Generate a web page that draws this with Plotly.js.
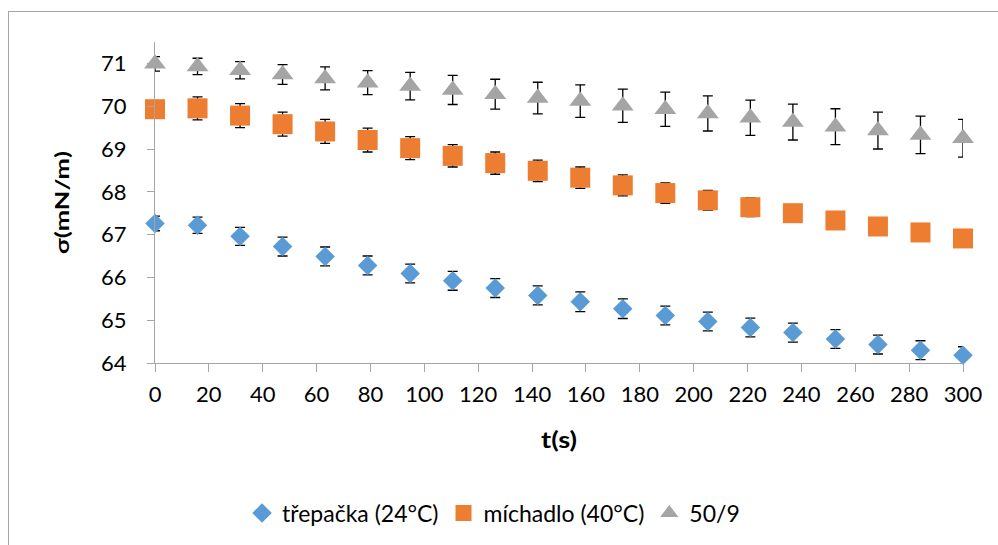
<!DOCTYPE html>
<html>
<head>
<meta charset="utf-8">
<script src="https://cdn.plot.ly/plotly-3.0.1.min.js"></script>
<style>
  html, body { margin: 0; padding: 0; background: #ffffff; overflow: hidden; }
  #wrap { position: relative; width: 998px; height: 545px; overflow: hidden; }
  #chart { position: absolute; left: 0; top: 0; width: 998px; height: 545px; }
  #frame { position: absolute; left: 8px; top: 11px; width: 1010px; height: 560px;
           border: 1px solid #a6a6a6; pointer-events: none; box-sizing: border-box; }
</style>
</head>
<body>
<div id="wrap">
  <div id="chart"></div>
  <div id="frame"></div>
</div>
<script>
// time points (s): 20 samples from 0 to 300
const timeS = [0, 15.79, 31.58, 47.37, 63.16, 78.95, 94.74, 110.53, 126.32, 142.11,
               157.89, 173.68, 189.47, 205.26, 221.05, 236.84, 252.63, 268.42, 284.21, 300];

const trepackaName = "třepačka (24°C)";
const trepacka = [67.26, 67.22, 66.96, 66.72, 66.49, 66.28, 66.09, 65.92, 65.75, 65.58,
                  65.43, 65.27, 65.11, 64.97, 64.83, 64.71, 64.56, 64.43, 64.30, 64.18];
const trepackaErr = [0.17, 0.19, 0.21, 0.22, 0.22, 0.22, 0.22, 0.22, 0.22, 0.22,
                     0.23, 0.23, 0.22, 0.22, 0.22, 0.22, 0.22, 0.22, 0.22, 0.20];

const michadloName = "míchadlo (40°C)";
const michadlo = [69.93, 69.95, 69.78, 69.58, 69.41, 69.21, 69.02, 68.84, 68.67, 68.49,
                  68.33, 68.15, 67.97, 67.80, 67.64, 67.50, 67.33, 67.19, 67.05, 66.91];
const michadloErr = [0.20, 0.27, 0.28, 0.28, 0.28, 0.28, 0.27, 0.26, 0.26, 0.25,
                     0.25, 0.245, 0.24, 0.23, 0.22, 0.20, 0.18, 0.15, 0.12, 0.10];

const s509Name = "50/9";
const s509 = [70.99, 70.93, 70.84, 70.74, 70.65, 70.55, 70.47, 70.38, 70.28, 70.19,
              70.12, 70.01, 69.93, 69.83, 69.73, 69.63, 69.52, 69.43, 69.33, 69.25];
const s509Err = [0.17, 0.19, 0.20, 0.23, 0.27, 0.28, 0.32, 0.34, 0.35, 0.37,
                 0.38, 0.39, 0.40, 0.41, 0.41, 0.42, 0.42, 0.43, 0.44, 0.44];

const xTicks = [0, 20, 40, 60, 80, 100, 120, 140, 160, 180, 200, 220, 240, 260, 280, 300];
const yTicks = [64, 65, 66, 67, 68, 69, 70, 71];

const xTitle = "t(s)";
const yTitle = "σ(mN/m)";

const FONT = "Lato, 'Open Sans', sans-serif";

function errObj(arr) {
  return { type: 'data', array: arr, visible: true, color: '#000000', thickness: 1.3, width: 5 };
}

const traces = [
  { x: timeS, y: trepacka, name: trepackaName, type: 'scatter', mode: 'markers',
    cliponaxis: false,
    marker: { symbol: 'diamond', size: 15, color: '#5B9BD5' },
    error_y: errObj(trepackaErr) },
  { x: timeS, y: michadlo, name: michadloName, type: 'scatter', mode: 'markers',
    cliponaxis: false,
    marker: { symbol: 'square', size: 20, color: '#ED7D31' },
    error_y: errObj(michadloErr) },
  { x: timeS, y: s509, name: s509Name, type: 'scatter', mode: 'markers',
    cliponaxis: false,
    marker: { symbol: 'triangle-up', size: 19, color: '#A5A5A5' },
    error_y: errObj(s509Err) }
];

const layout = {
  width: 998, height: 545,
  margin: { l: 155, r: 35, t: 42, b: 181 },
  paper_bgcolor: 'rgba(0,0,0,0)',
  plot_bgcolor: 'rgba(0,0,0,0)',
  font: { family: FONT, size: 22, color: '#000000' },
  showlegend: true,
  legend: {
    orientation: 'h', x: 0.419, xanchor: 'center', y: -0.463, yanchor: 'middle',
    font: { family: FONT, size: 23, color: '#000000' },
    traceorder: 'normal', bgcolor: 'rgba(0,0,0,0)'
  },
  xaxis: {
    range: [0, 300], autorange: false,
    tickmode: 'array', tickvals: xTicks, ticktext: xTicks.map(String),
    showline: true, linecolor: '#a6a6a6', linewidth: 1,
    ticks: 'outside', ticklen: 8, tickcolor: '#a6a6a6', tickwidth: 1,
    showgrid: false, zeroline: false,
    tickfont: { family: FONT, size: 22, color: '#000000' },
    ticklabelstandoff: 4,
    title: { text: '<b>' + xTitle + '</b>', standoff: 25, font: { family: FONT, size: 23, color: '#000000' } },
    automargin: false
  },
  yaxis: {
    range: [64, 71.5], autorange: false,
    tickmode: 'array', tickvals: yTicks, ticktext: yTicks.map(String),
    showline: true, linecolor: '#a6a6a6', linewidth: 1,
    ticks: 'outside', ticklen: 7, tickcolor: '#a6a6a6', tickwidth: 1,
    showgrid: false, zeroline: false,
    tickfont: { family: FONT, size: 22, color: '#000000' },
    ticklabelstandoff: 16,
    title: { text: '<b>' + yTitle + '</b>', standoff: 26, font: { family: FONT, size: 19, color: '#000000' } },
    automargin: false
  }
};

Plotly.newPlot('chart', traces, layout, { staticPlot: true, displayModeBar: false }).then(function () {
  // the original titles are drawn stretched along their baseline
  const yt = document.querySelector('#chart .g-ytitle text');
  if (yt) { yt.setAttribute('textLength', '103'); yt.setAttribute('lengthAdjust', 'spacingAndGlyphs'); }
  const xt = document.querySelector('#chart .g-xtitle text');
  if (xt) { xt.setAttribute('textLength', '36'); xt.setAttribute('lengthAdjust', 'spacingAndGlyphs'); }
});
</script>
</body>
</html>
